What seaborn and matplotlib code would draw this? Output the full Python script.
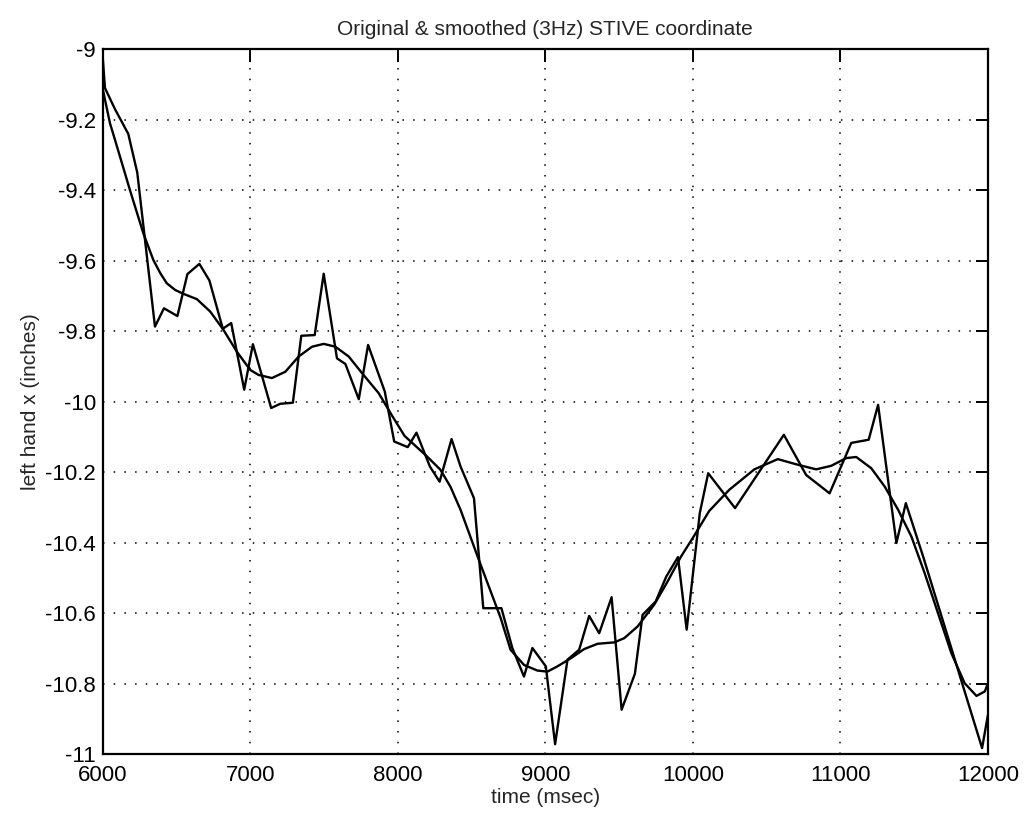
import matplotlib
matplotlib.use("Agg")
import matplotlib.pyplot as plt
import seaborn as sns
import pandas as pd

# Original (raw) STIVE coordinate
raw_t = [6000, 6014, 6082, 6172, 6233, 6353, 6414, 6505, 6573, 6654, 6722, 6813, 6870,
         6958, 7017, 7141, 7202, 7288, 7345, 7436, 7497, 7587, 7644, 7735, 7798, 7911,
         7975, 8067, 8126, 8217, 8283, 8364, 8425, 8516, 8579, 8702, 8776, 8855, 8912,
         9003, 9066, 9150, 9229, 9297, 9365, 9449, 9517, 9607, 9659, 9748, 9820, 9899,
         9958, 10047, 10104, 10286, 10617, 10768, 10927, 11074, 11192, 11256, 11380,
         11444, 11561, 11961, 12000]
raw_x = [-9.03, -9.11, -9.17, -9.24, -9.35, -9.787, -9.735, -9.757, -9.638, -9.609, -9.656,
         -9.793, -9.777, -9.966, -9.837, -10.018, -10.006, -10.003, -9.813, -9.811, -9.637,
         -9.877, -9.893, -9.993, -9.839, -9.971, -10.113, -10.129, -10.088, -10.184, -10.227,
         -10.106, -10.184, -10.274, -10.586, -10.586, -10.699, -10.78, -10.699, -10.751,
         -10.972, -10.732, -10.704, -10.608, -10.657, -10.555, -10.874, -10.772, -10.605,
         -10.567, -10.496, -10.441, -10.647, -10.316, -10.203, -10.302, -10.094, -10.208,
         -10.26, -10.117, -10.108, -10.009, -10.401, -10.288, -10.439, -10.983, -10.89]

# Smoothed (3Hz) STIVE coordinate
smooth_t = [6000, 6048, 6082, 6183, 6274, 6342, 6390, 6433, 6490, 6546, 6637, 6727, 6817,
            6908, 6999, 7055, 7146, 7237, 7327, 7418, 7497, 7576, 7667, 7757, 7870, 7961,
            8045, 8199, 8288, 8356, 8425, 8549, 8697, 8764, 8855, 8946, 9014, 9082, 9173,
            9263, 9354, 9467, 9535, 9625, 9738, 9829, 9919, 10005, 10111, 10247, 10417,
            10576, 10712, 10836, 10938, 11040, 11108, 11210, 11301, 11392, 11482, 11572,
            11662, 11753, 11843, 11923, 11980, 12000]
smooth_x = [-9.115, -9.21, -9.257, -9.399, -9.522, -9.598, -9.636, -9.664, -9.683, -9.694,
            -9.709, -9.744, -9.796, -9.858, -9.91, -9.924, -9.933, -9.915, -9.872, -9.844,
            -9.836, -9.844, -9.872, -9.919, -9.976, -10.04, -10.097, -10.156, -10.193,
            -10.241, -10.307, -10.449, -10.614, -10.704, -10.747, -10.763, -10.766, -10.751,
            -10.728, -10.702, -10.687, -10.683, -10.671, -10.638, -10.576, -10.51, -10.44,
            -10.383, -10.31, -10.25, -10.192, -10.163, -10.179, -10.192, -10.182, -10.16,
            -10.157, -10.189, -10.241, -10.307, -10.383, -10.487, -10.6, -10.714, -10.799,
            -10.835, -10.822, -10.80]

x_ticks = [6000, 7000, 8000, 9000, 10000, 11000, 12000]
x_ticklabels = ["6000", "7000", "8000", "9000", "10000", "11000", "12000"]
y_ticks = [-11, -10.8, -10.6, -10.4, -10.2, -10, -9.8, -9.6, -9.4, -9.2, -9]
y_ticklabels = ["-11", "-10.8", "-10.6", "-10.4", "-10.2", "-10", "-9.8", "-9.6",
                "-9.4", "-9.2", "-9"]

title = "Original & smoothed (3Hz) STIVE coordinate"
xlabel = "time (msec)"
ylabel = "left hand x (inches)"

sns.set_style("white")
plt.rcParams['font.family'] = ['Liberation Sans', 'DejaVu Sans']

fig = plt.figure(figsize=(10.29, 8.17), dpi=100)
ax = fig.add_axes([0.100, 0.077, 0.860, 0.8627])

raw_df = pd.DataFrame({"t": raw_t, "x": raw_x})
smooth_df = pd.DataFrame({"t": smooth_t, "x": smooth_x})

sns.lineplot(data=raw_df, x="t", y="x", ax=ax, color="black", linewidth=1.7,
             sort=False, estimator=None)
sns.lineplot(data=smooth_df, x="t", y="x", ax=ax, color="black", linewidth=1.7,
             sort=False, estimator=None)

ax.set_xlim(6000, 12000)
ax.set_ylim(-11, -9)
ax.set_xticks(x_ticks)
ax.set_xticklabels(x_ticklabels)
ax.set_yticks(y_ticks)
ax.set_yticklabels(y_ticklabels)

ax.grid(True, color="black", linestyle=(0, (1, 6)), linewidth=1.1)
ax.set_axisbelow(True)
for s in ax.spines.values():
    s.set_visible(True)
    s.set_color("black")
    s.set_linewidth(1.6)

ax.tick_params(axis="both", direction="in", length=9, width=1.4, labelsize=16,
               colors="black", top=True, right=True)
ax.tick_params(axis="x", pad=8)
ax.tick_params(axis="y", pad=5)

ax.set_title(title, fontsize=15, pad=10)
ax.set_xlabel(xlabel, fontsize=15, labelpad=1)
ax.set_ylabel(ylabel, fontsize=15, labelpad=4)

fig.savefig("out.png", dpi=100)
